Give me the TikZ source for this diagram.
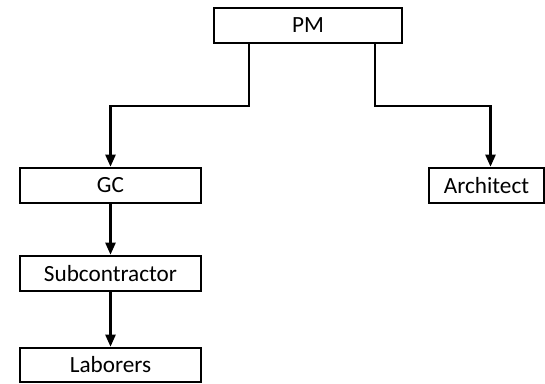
\documentclass[tikz,border=0pt]{standalone}
\usepackage{fontspec}
\setmainfont{Carlito}
\usetikzlibrary{arrows.meta}
\begin{document}
\begin{tikzpicture}[x=1pt,y=-1pt,
  box/.style={draw=black, line width=2.6pt, rectangle, minimum height=35pt, inner sep=0pt,
    font=\fontsize{23.2}{27}\selectfont, text=black},
  conn/.style={draw=black, line width=2.3pt, -{Triangle[length=12pt,width=10pt]}}]
\useasboundingbox (0,0) rectangle (545,383);
\node[box, minimum width=188pt] (pm) at (308,25.5) {PM};
\node[box, minimum width=181pt] (gc) at (110.5,185.5) {GC};
\node[box, minimum width=181pt] (sub) at (110.5,273.5) {Subcontractor};
\node[box, minimum width=181pt, minimum height=34pt] (lab) at (110.5,365) {Laborers};
\node[box, minimum width=115pt] (arch) at (486.5,185.5) {Architect};
\coordinate (pl) at (249,106);
\coordinate (pr) at (375,106);
\coordinate (al) at (110.5,106);
\coordinate (ar) at (490.5,106);
\draw[conn] (pm.south -| pl) -- (pl) -- (al) -- (gc.north -| al);
\draw[conn] (pm.south -| pr) -- (pr) -- (ar) -- (arch.north -| ar);
\draw[conn] (gc) -- (sub);
\draw[conn] (sub) -- (lab);
\end{tikzpicture}
\end{document}
